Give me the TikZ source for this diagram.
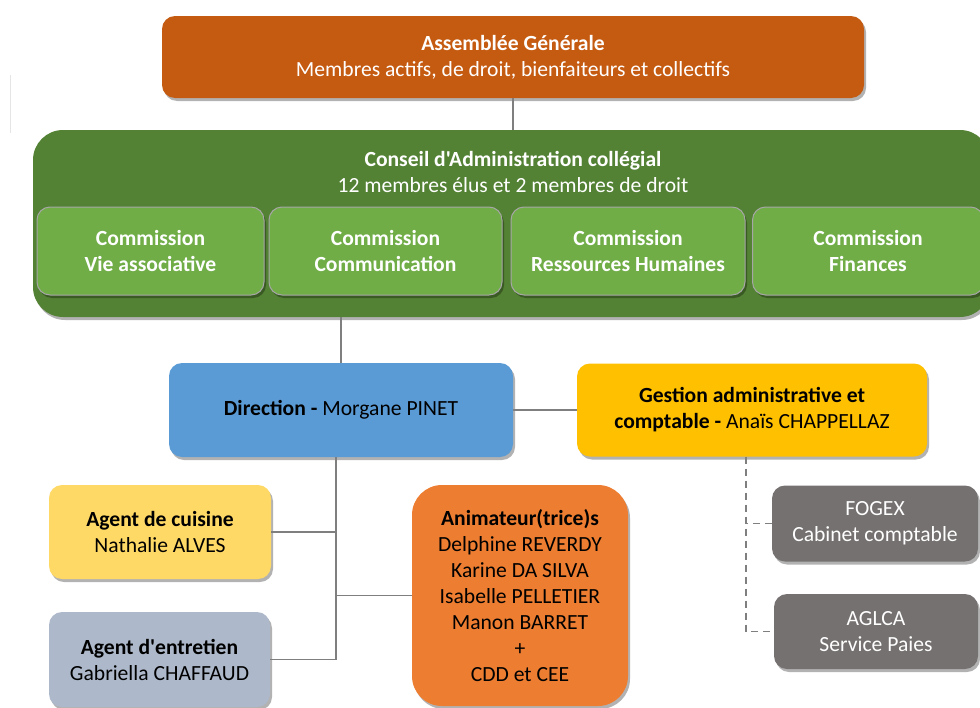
\documentclass[tikz,border=0pt]{standalone}
\usepackage{fontspec}
\setmainfont{Carlito}[Ligatures=TeXOff]
\usetikzlibrary{shadows}
\definecolor{cAG}{HTML}{C55A11}
\definecolor{cCA}{HTML}{548235}
\definecolor{cCom}{HTML}{70AD47}
\definecolor{cDir}{HTML}{5B9BD5}
\definecolor{cGes}{HTML}{FFC000}
\definecolor{cCui}{HTML}{FFD966}
\definecolor{cEnt}{HTML}{ADB9CA}
\definecolor{cAni}{HTML}{ED7D31}
\definecolor{cExt}{HTML}{767171}
\definecolor{cLine}{HTML}{7F7F7F}
\begin{document}
\begin{tikzpicture}[x=1pt,y=-1pt,
  box/.style={rounded corners=13pt, align=center, inner sep=0pt,
    font=\fontsize{21.6}{26}\selectfont,
    drop shadow={shadow xshift=2pt, shadow yshift=-3pt, opacity=0.3, fill=black}},
  combox/.style={box, fill=cCom, draw=black!35, line width=1pt, text=white,
    font=\fontsize{21.6}{26}\selectfont\bfseries, minimum height=88pt},
  conn/.style={draw=cLine, line width=1.4pt},
  dconn/.style={conn, dash pattern=on 7pt off 5pt}]
\useasboundingbox (0,0) rectangle (980,707);
\draw[gray!20, line width=1pt] (10,75) -- (10,133);
% Assemblee generale
\node[box, fill=cAG, text=white, minimum width=702pt, minimum height=82pt] (ag) at (513,57)
  {\textbf{Assemblée Générale}\\Membres actifs, de droit, bienfaiteurs et collectifs};
% Conseil d'administration
\node[box, rounded corners=30pt, fill=cCA, minimum width=957pt, minimum height=187pt] (ca) at (511.5,223.5) {};
\node[text=white, font=\fontsize{21.6}{26}\selectfont, align=center, inner sep=0pt] (catxt) at (513,171.5)
  {\textbf{Conseil d'Administration collégial}\\12 membres élus et 2 membres de droit};
\node[combox, minimum width=227pt] (c1) at (150.5,251) {Commission\\Vie associative};
\node[combox, minimum width=233pt] (c2) at (385.5,251) {Commission\\Communication};
\node[combox, minimum width=234pt] (c3) at (628,251) {Commission\\Ressources Humaines};
\node[combox, minimum width=231pt] (c4) at (868,251) {Commission\\Finances};
% Direction / gestion
\node[box, fill=cDir, minimum width=344pt, minimum height=94pt] (dir) at (341,410)
  {\textbf{Direction -} Morgane PINET};
\node[box, fill=cGes, minimum width=350pt, minimum height=93pt] (ges) at (752,410)
  {\textbf{Gestion administrative et}\\\textbf{comptable -} Anaïs CHAPPELLAZ};
% Staff
\node[box, fill=cCui, minimum width=222pt, minimum height=94pt] (cui) at (160,532)
  {\textbf{Agent de cuisine}\\Nathalie ALVES};
\node[box, fill=cEnt, minimum width=221pt, minimum height=95pt] (ent) at (159.5,659.5)
  {\textbf{Agent d'entretien}\\Gabriella CHAFFAUD};
\node[box, rounded corners=30pt, fill=cAni, minimum width=216pt, minimum height=221pt] (ani) at (520,595.5)
  {\textbf{Animateur(trice)s}\\Delphine REVERDY\\Karine DA SILVA\\Isabelle PELLETIER\\Manon BARRET\\+\\CDD et CEE};
% External
\node[box, fill=cExt, text=white, minimum width=206pt, minimum height=76pt] (fog) at (875,523.5)
  {FOGEX\\Cabinet comptable};
\node[box, fill=cExt, text=white, minimum width=204pt, minimum height=75pt] (agl) at (876,631.5)
  {AGLCA\\Service Paies};
% connectors
\coordinate (tk) at (336,0);
\coordinate (dk) at (746,0);
\draw[conn] (ag.south) -- (ag.south |- ca.north);
\draw[conn] (dir.north) -- (dir.north |- ca.south);
\draw[conn] (dir.east) -- (ges.west);
\draw[conn] (dir.south -| tk) -- (ent.east -| tk) -- (ent.east);
\draw[conn] (cui.east) -- (cui.east -| tk);
\draw[conn] (ani.west) -- (ani.west -| tk);
\draw[dconn] (ges.south -| dk) -- (agl.west -| dk) -- (agl.west);
\draw[dconn] (fog.west) -- (fog.west -| dk);
\end{tikzpicture}
\end{document}
